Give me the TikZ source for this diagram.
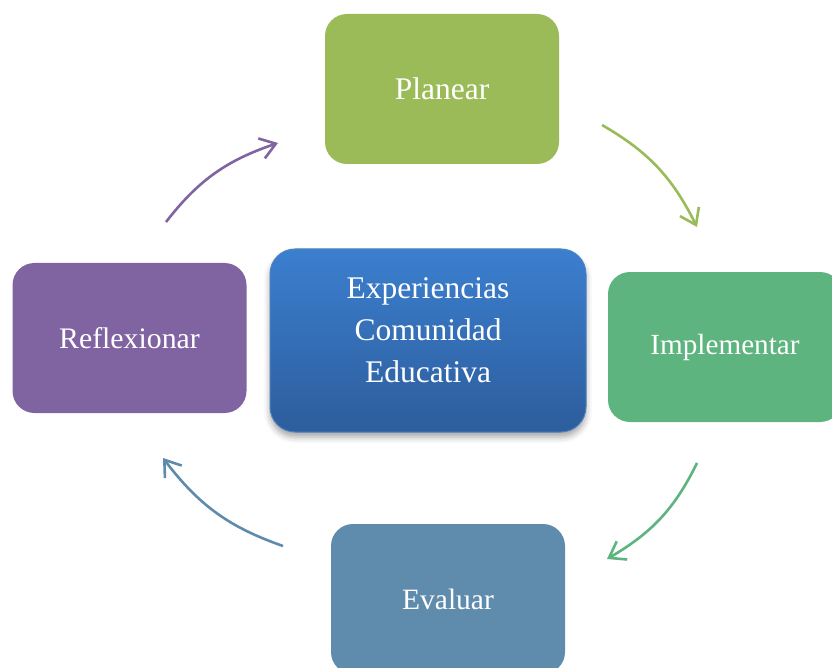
\documentclass[tikz,border=0pt]{standalone}
\usepackage{fontspec}
\setmainfont{Liberation Serif}
\usetikzlibrary{arrows.meta,shadows.blur,bending}
\definecolor{cPlan}{HTML}{9BBB59}
\definecolor{cImpl}{HTML}{5DB47E}
\definecolor{cEval}{HTML}{5F8BAC}
\definecolor{cRefl}{HTML}{8064A2}
\definecolor{cTop}{HTML}{3B7FCF}
\definecolor{cBot}{HTML}{2D5D9C}
\definecolor{cEdge}{HTML}{4F82C2}
\begin{document}
\begin{tikzpicture}[x=1pt,y=-1pt,
  box/.style={rounded corners=22pt, minimum width=234pt, minimum height=150pt,
    text=white, inner sep=0pt},
  centerbox/.style={rounded corners=25pt, minimum width=316pt, minimum height=183pt,
    text=white, font=\fontsize{31.5}{42}\selectfont, inner sep=0pt, align=center,
    top color=cTop, bottom color=cBot, draw=cEdge, line width=1pt,
    blur shadow={shadow xshift=0pt, shadow yshift=-5pt, shadow blur radius=6pt, shadow opacity=35}},
  cyc/.style={line width=2.6pt, -{Straight Barb[length=15pt,width=21pt,line width=2.6pt]}, bend left=17}]
\clip (0,0) rectangle (832,668);
\node[box, fill=cPlan, font=\fontsize{31.5}{42}\selectfont] (plan) at (442,89) {Planear};
\node[box, fill=cImpl, font=\fontsize{29.2}{40}\selectfont] (impl) at (725,347) {Implementar};
\node[box, fill=cEval, font=\fontsize{29.5}{40}\selectfont] (eval) at (448,599) {Evaluar};
\node[box, fill=cRefl, font=\fontsize{29.8}{40}\selectfont] (refl) at (129.5,338) {Reflexionar};
\node[centerbox, text depth=20pt] (exp) at (428,340.5) {Experiencias\\Comunidad\\Educativa};
\coordinate (a1s) at (166,222);
\coordinate (a1e) at (278,143);
\coordinate (a2s) at (602,125);
\coordinate (a2e) at (697,227);
\coordinate (a3s) at (697,463);
\coordinate (a3e) at (607,559);
\coordinate (a4s) at (283,546);
\coordinate (a4e) at (163,458);
\draw[cyc, cRefl] (a1s) to (a1e);
\draw[cyc, cPlan] (a2s) to (a2e);
\draw[cyc, cImpl] (a3s) to (a3e);
\draw[cyc, cEval] (a4s) to (a4e);
\end{tikzpicture}
\end{document}
